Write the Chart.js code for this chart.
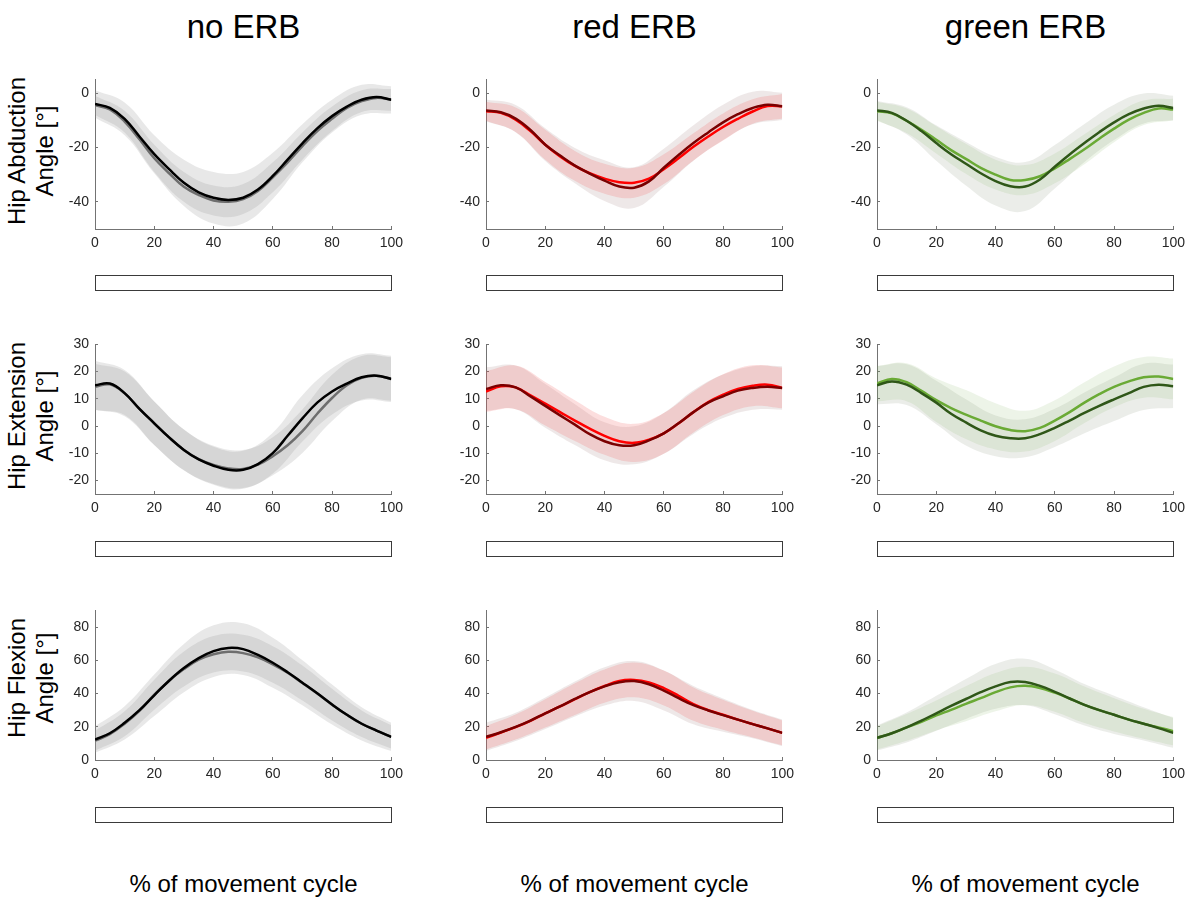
<!DOCTYPE html>
<html>
<head>
<meta charset="utf-8">
<script src="https://cdn.jsdelivr.net/npm/chart.js@4.4.1/dist/chart.umd.min.js"></script>
<style>
body { margin: 0; background: #fff; font-family: 'Liberation Sans', Arial, sans-serif; }
#page { position: relative; width: 1194px; height: 899px; overflow: hidden; }
.head { position: absolute; width: 297px; text-align: center; font-size: 33px; line-height: 38px; top: 8px; color: #000; white-space: nowrap; }
.foot { position: absolute; width: 297px; text-align: center; font-size: 24px; line-height: 28px; top: 870px; color: #000; white-space: nowrap; }
.ylab { position: absolute; width: 220px; height: 56px; font-size: 24px; line-height: 28px; text-align: center; transform: rotate(-90deg); white-space: nowrap; color: #000; }
.spm { position: absolute; width: 297px; height: 16px; border: 1px solid #3a3a3a; box-sizing: border-box; background: #fff; }
canvas { position: absolute; }
</style>
</head>
<body>
<div id="page"></div>
<script>
// x positions (% of movement cycle)
const pctX = [0, 5, 10, 15, 20, 25, 30, 35, 40, 45, 50, 55, 60, 65, 70, 75, 80, 85, 90, 95, 100];
const sdX = [0, 10, 20, 30, 40, 50, 60, 70, 80, 90, 100];
const xTicks = [0, 20, 40, 60, 80, 100];

// Tick labels per row
const yTicksAbd = [-40, -20, 0];
const yTicksExt = [-20, -10, 0, 10, 20, 30];
const yTicksFlex = [0, 20, 40, 60, 80];

// Hip abduction (A = light line, B = dark line)
const abdNoA = [-4.5, -6, -10.5, -17, -24, -29.5, -34.5, -37.5, -39.5, -40, -39, -36, -31, -25.5, -19.5, -14, -9.5, -5.5, -3, -1.8, -2.5];
const abdNoB = [-4, -5.5, -9.5, -16, -22.5, -28, -33, -36.5, -38.5, -39.3, -38.5, -35.5, -30.5, -24.5, -18.5, -13, -8.5, -5, -2.5, -1.5, -2.5];
const abdRedA = [-6.7, -7.3, -9.8, -14, -19, -23.3, -26.8, -29.5, -31.5, -32.8, -33, -31.5, -28, -24, -19.8, -16, -12.5, -9.5, -6.8, -4.8, -4.9];
const abdRedB = [-6.4, -7.1, -9.4, -13.6, -19, -23, -26.7, -29.6, -32.2, -34.4, -34.8, -32.5, -27.5, -22.8, -18.4, -14.5, -10.8, -7.8, -5.5, -4.3, -4.9];
const abdGreenA = [-6.7, -7.5, -10.2, -13.5, -17.2, -21, -24.2, -27.5, -30, -32, -32, -30.6, -27.7, -24.3, -20.7, -16.8, -13.1, -9.8, -7.3, -5.7, -6.1];
const abdGreenB = [-6.4, -7.3, -10.2, -14, -18.4, -22.5, -26, -29.5, -32.4, -34.3, -34.4, -31.8, -27.1, -22.6, -18.4, -14.4, -10.8, -7.8, -5.7, -4.7, -5.5];

// Hip extension
const extNoA = [14.4, 15.3, 12, 6.3, 1, -4.2, -8.8, -12.2, -14.3, -15.6, -15.8, -14.2, -11.1, -7.1, -1.9, 4.5, 10.3, 15, 17.7, 18.5, 17.3];
const extNoB = [15, 15.6, 12.1, 6.3, 1, -4.2, -8.8, -12.3, -14.6, -16.1, -16.1, -14, -10, -3.6, 2.8, 8.6, 12.7, 15.6, 17.9, 18.5, 17.3];
const extRedA = [12.7, 14.6, 14.2, 11.3, 8.2, 5.1, 2, -1, -3.6, -5.6, -6.2, -5, -2.7, 1, 5.1, 8.8, 11.5, 13.6, 14.8, 15.2, 14];
const extRedB = [13.6, 15, 14.2, 10.9, 7.4, 3.9, 0.5, -3, -5.6, -7.1, -7.1, -5.3, -2.7, 1, 5.1, 8.6, 10.9, 13, 14, 14.4, 14];
const extGreenA = [15.6, 17.3, 16.1, 12.9, 9.5, 6.6, 4.2, 2, -0.1, -1.5, -1.9, -0.7, 2, 5.1, 8.6, 11.7, 14.4, 16.4, 17.9, 18.2, 17.3];
const extGreenB = [15, 16.4, 15.2, 12.1, 8.6, 4.5, 1.3, -1.6, -3.6, -4.5, -4.5, -3, -0.7, 2, 4.8, 7.4, 9.8, 12.1, 14.4, 15.2, 14.6];

// Hip flexion
const flexNoA = [11.6, 15.5, 21.8, 29.5, 39.3, 47.7, 54.7, 60.4, 63.6, 65.1, 64.3, 61.7, 57.5, 52.5, 46.3, 40, 33.3, 27.2, 21.8, 17.7, 13.9];
const flexNoB = [12.3, 16.1, 22.4, 30, 38.9, 47.7, 55.3, 61.3, 65.5, 67.4, 66.7, 63.2, 58.5, 52.8, 46.5, 40.1, 33.4, 27.2, 21.8, 17.7, 13.9];
const flexRedA = [13.3, 16.5, 19.8, 23.6, 28, 32.2, 36.6, 40.8, 44.5, 47.6, 48.2, 46.7, 43.3, 38.6, 33.6, 30, 27.2, 24.3, 21.6, 19, 16.3];
const flexRedB = [13.9, 16.7, 19.9, 23.7, 28.1, 32.3, 36.7, 40.8, 44.3, 46.8, 47.5, 45.6, 41.8, 37.2, 33, 29.8, 27, 24.3, 21.6, 19, 16.3];
const flexGreenA = [13.3, 16.1, 19.6, 23, 26.8, 30.2, 33.8, 37.2, 40.8, 43.7, 44.6, 43.3, 40.5, 37, 33.2, 30, 27.2, 24.3, 21.8, 19.6, 17.3];
const flexGreenB = [13.3, 16.1, 19.6, 23.7, 28.1, 32.5, 36.7, 40.8, 44.3, 46.9, 46.9, 44.6, 41, 37, 33.2, 30, 27.2, 24.3, 21.8, 19.2, 16.3];

// Standard deviations (at sdX)
const abdNoA_sd = [3.5, 4, 5, 5.5, 5.5, 5.5, 5.5, 5, 4.5, 4, 4];
const abdNoB_sd = [5, 6, 7, 8.5, 9.5, 9.5, 8.5, 7, 6, 5.5, 5];
const abdRedA_sd = [3.5, 4.5, 5.5, 5.5, 5.5, 5.5, 5.5, 5, 5, 4.5, 4.5];
const abdRedB_sd = [4, 5, 6, 6.5, 7.5, 7.5, 7, 6.5, 6.5, 6, 5];
const abdGreenA_sd = [3.5, 4.5, 5, 5.5, 5.5, 5.5, 5.5, 5.5, 5, 4.5, 4];
const abdGreenB_sd = [3.5, 5, 6.5, 8, 9, 9, 8, 7, 6.5, 5.5, 4.5];
const extNoA_sd = [8.5, 8, 8, 7.5, 7, 7, 7, 8, 8.5, 8, 8];
const extNoB_sd = [9, 8.5, 8, 7.5, 7, 7, 7.5, 8.5, 8.5, 8.5, 8.5];
const extRedA_sd = [7.5, 8, 8, 7.5, 7, 7, 7.5, 7.5, 7.5, 7.5, 7.5];
const extRedB_sd = [8, 8, 8, 7.5, 7, 7, 7.5, 8, 8, 8, 8];
const extGreenA_sd = [6.5, 7, 8, 9, 8.5, 7.5, 7.5, 7.5, 7.5, 7.5, 7.5];
const extGreenB_sd = [7, 7.5, 8, 8.5, 7.5, 7, 7, 7.5, 8, 8.5, 8];
const flexNoA_sd = [6, 7.5, 9, 10.5, 11, 11, 11, 10.5, 9.5, 8, 7];
const flexNoB_sd = [8, 10, 12.5, 14.5, 15.5, 15.5, 15, 13.5, 12, 10, 8.5];
const flexRedA_sd = [7, 7.5, 8.5, 9.5, 10, 10.5, 10.5, 10, 9, 8, 7.5];
const flexRedB_sd = [8.5, 8.5, 9.5, 10.5, 11.5, 12, 12, 11.5, 10, 8.5, 8];
const flexGreenA_sd = [7, 8, 9, 10.5, 11.5, 11.5, 11.5, 11, 10, 9, 8.5];
const flexGreenB_sd = [7.5, 9, 10.5, 12, 13.5, 14, 13.5, 12.5, 11.5, 10, 9];

const columnTitles = ['no ERB', 'red ERB', 'green ERB'];
const rowTitles = [['Hip Abduction', 'Angle [°]'], ['Hip Extension', 'Angle [°]'], ['Hip Flexion', 'Angle [°]']];
const xTitle = '% of movement cycle';

// Layout (pixels)
const plotLeft = [95, 486, 877];
const plotTop = [72, 337, 603];
const barTop = [275, 541, 807];
const PLOT_W = 297, PLOT_H = 157;
const PAD_L = 45, PAD_T = 10, PAD_R = 20, PAD_B = 30;

// Colours per column
const STYLE = [
    { lineA: '#6e6e6e', lineB: '#000000', bandA: 'rgba(150,150,150,0.22)', bandB: 'rgba(150,150,150,0.22)' },
    { lineA: '#ff0000', lineB: '#7a0000', bandA: 'rgba(240,90,90,0.20)', bandB: 'rgba(150,110,110,0.16)' },
    { lineA: '#6aaa35', lineB: '#2f5718', bandA: 'rgba(130,180,90,0.14)', bandB: 'rgba(110,130,100,0.14)' }
];

const ROWS = [
    { min: -50, max: 5, ticks: yTicksAbd, series: [[abdNoA, abdNoB, abdNoA_sd, abdNoB_sd], [abdRedA, abdRedB, abdRedA_sd, abdRedB_sd], [abdGreenA, abdGreenB, abdGreenA_sd, abdGreenB_sd]] },
    { min: -25, max: 30, ticks: yTicksExt, series: [[extNoA, extNoB, extNoA_sd, extNoB_sd], [extRedA, extRedB, extRedA_sd, extRedB_sd], [extGreenA, extGreenB, extGreenA_sd, extGreenB_sd]] },
    { min: 0, max: 90, ticks: yTicksFlex, series: [[flexNoA, flexNoB, flexNoA_sd, flexNoB_sd], [flexRedA, flexRedB, flexRedA_sd, flexRedB_sd], [flexGreenA, flexGreenB, flexGreenA_sd, flexGreenB_sd]] }
];

Chart.defaults.font.family = "'Liberation Sans', Arial, sans-serif";

const page = document.getElementById('page');

function addDiv(cls, text, left, top) {
    const d = document.createElement('div');
    d.className = cls;
    d.innerHTML = text;
    d.style.left = left + 'px';
    d.style.top = top + 'px';
    page.appendChild(d);
    return d;
}

// mean +/- sd at the sd sample positions
function bandPoints(mean, sd, sign) {
    return sd.map((s, i) => ({ x: sdX[i], y: mean[pctX.indexOf(sdX[i])] + sign * s }));
}
function linePoints(mean) {
    return mean.map((v, i) => ({ x: pctX[i], y: v }));
}

const AXIS_COLOR = '#737373';
const TICK_FONT = { size: 14 };

function makePanel(r, c) {
    const row = ROWS[r];
    const [meanA, meanB, sdA, sdB] = row.series[c];
    const st = STYLE[c];

    const canvas = document.createElement('canvas');
    canvas.width = PLOT_W + PAD_L + PAD_R;
    canvas.height = PLOT_H + PAD_T + PAD_B;
    canvas.style.left = (plotLeft[c] - PAD_L) + 'px';
    canvas.style.top = (plotTop[r] - PAD_T) + 'px';
    page.appendChild(canvas);

    const bandStyle = { borderWidth: 0, borderColor: 'rgba(0,0,0,0)', pointRadius: 0, tension: 0.4 };

    new Chart(canvas.getContext('2d'), {
        type: 'line',
        data: {
            datasets: [
                { ...bandStyle, data: bandPoints(meanB, sdB, 1), fill: '+1', backgroundColor: st.bandB, order: 3 },
                { ...bandStyle, data: bandPoints(meanB, sdB, -1), fill: false, order: 3 },
                { ...bandStyle, data: bandPoints(meanA, sdA, 1), fill: '+1', backgroundColor: st.bandA, order: 2 },
                { ...bandStyle, data: bandPoints(meanA, sdA, -1), fill: false, order: 2 },
                { data: linePoints(meanA), borderColor: st.lineA, borderWidth: 2.5, pointRadius: 0, fill: false, tension: 0.4, order: 1 },
                { data: linePoints(meanB), borderColor: st.lineB, borderWidth: 2.5, pointRadius: 0, fill: false, tension: 0.4, order: 0 }
            ]
        },
        options: {
            responsive: false,
            animation: false,
            layout: { padding: { left: 0, top: PAD_T, right: PAD_R, bottom: 0 } },
            plugins: { legend: { display: false }, tooltip: { enabled: false } },
            scales: {
                x: {
                    type: 'linear',
                    min: 0,
                    max: 100,
                    afterBuildTicks: (s) => { s.ticks = xTicks.map(v => ({ value: v })); },
                    afterFit: (s) => { s.height = PAD_B; },
                    grid: { drawOnChartArea: false, drawTicks: true, tickLength: -3, color: AXIS_COLOR },
                    border: { display: true, color: AXIS_COLOR, width: 1 },
                    ticks: { font: TICK_FONT, color: '#262626', padding: 9, maxRotation: 0 }
                },
                y: {
                    type: 'linear',
                    min: row.min,
                    max: row.max,
                    afterBuildTicks: (s) => { s.ticks = row.ticks.map(v => ({ value: v })); },
                    afterFit: (s) => { s.width = PAD_L; },
                    grid: { drawOnChartArea: false, drawTicks: true, tickLength: -3, color: AXIS_COLOR },
                    border: { display: true, color: AXIS_COLOR, width: 1 },
                    ticks: { font: TICK_FONT, color: '#262626', padding: 9 }
                }
            }
        }
    });

    // empty significance bar under each panel
    addDiv('spm', '', plotLeft[c], barTop[r]);
}

columnTitles.forEach((t, c) => {
    addDiv('head', t, plotLeft[c], 8);
    addDiv('foot', xTitle, plotLeft[c], 870);
});

rowTitles.forEach((lines, r) => {
    const cy = plotTop[r] + PLOT_H / 2 + (r === 2 ? -4 : 0);
    addDiv('ylab', lines.join('<br>'), 31 - 110, cy - 28);
});

for (let r = 0; r < 3; r++) {
    for (let c = 0; c < 3; c++) {
        makePanel(r, c);
    }
}
</script>
</body>
</html>
